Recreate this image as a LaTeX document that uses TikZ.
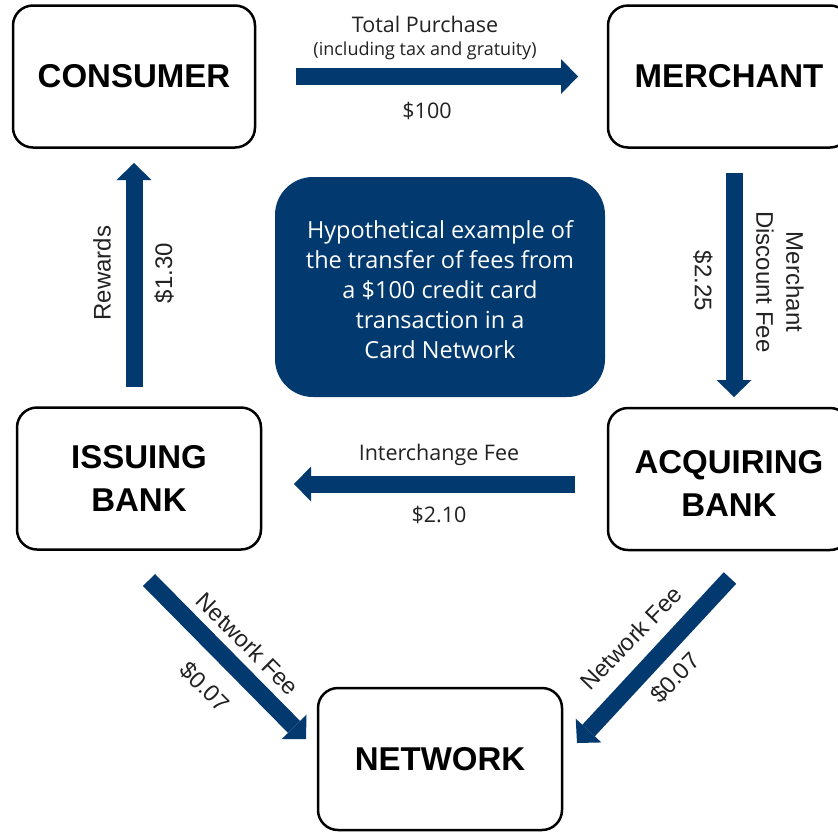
\documentclass[tikz,border=0pt]{standalone}
\usepackage{fontspec}
\setmainfont{Liberation Sans}
\newfontfamily\aptos{Open Sans}
\usetikzlibrary{arrows.meta}
\definecolor{navy}{HTML}{023A70}
\definecolor{txt}{HTML}{222222}
\begin{document}
\begin{tikzpicture}[x=1pt,y=-1pt,
 box/.style={draw=black, line width=2.5pt, rounded corners=20pt, fill=white, align=center,
   font=\fontsize{33}{43}\selectfont\bfseries, inner sep=0pt, minimum width=242pt, minimum height=142pt},
 blk/.style={draw=navy, line width=17pt, -{Triangle[width=35pt,length=17pt,line width=0pt]}},
 lbl/.style={text=txt, font=\fontsize{24}{30}\selectfont, inner sep=0pt, align=center},
 dlbl/.style={text=txt, font=\fontsize{23.5}{28}\selectfont, inner sep=0pt},
 alb/.style={text=txt, font=\aptos\fontsize{21.5}{26}\selectfont, inner sep=0pt},
 info/.style={fill=navy, rounded corners=38pt, minimum width=330pt, minimum height=220pt,
   text=white, align=center, font=\aptos\fontsize{23.5}{30}\selectfont, inner sep=0pt}]
\useasboundingbox (0,0) rectangle (838,831);
\clip (0,0) rectangle (838,831);
\fill[white] (0,0) rectangle (838,831);

% boxes
\node[box] (consumer) at (134,76.5) {CONSUMER};
\node[box] (merchant) at (729,76.5) {MERCHANT};
\node[box, minimum width=244pt] (issuing) at (139,478.5) {ISSUING\\BANK};
\node[box] (acquiring) at (729,479) {\raisebox{-14pt}[0pt][0pt]{\begin{tabular}{@{}c@{}}ACQUIRING\\[0pt]BANK\end{tabular}}};
\node[box, minimum width=244pt] (network) at (440,759) {NETWORK};
\node[info] (infobox) at (440,287) {};
\node[text=white, align=center, font=\aptos\fontsize{23.5}{30}\selectfont, inner sep=0pt] (infotext) at (440,290) {Hypothetical example of\\the transfer of fees from\\a \$100 credit card\\transaction in a\\Card Network};

% arrow end points
\coordinate (ta1) at (296,76.5);  \coordinate (ta2) at (578,76.5);
\coordinate (ra1) at (134,387);   \coordinate (ra2) at (134,163);
\coordinate (ma1) at (734,173);   \coordinate (ma2) at (734,397);
\coordinate (ia1) at (575,484);   \coordinate (ia2) at (294,484);
\coordinate (la1) at (149,580);   \coordinate (la2) at (306,739);
\coordinate (ga1) at (730,578);   \coordinate (ga2) at (577,743);

\draw[blk] (ta1) -- (ta2);
\draw[blk] (ra1) -- (ra2);
\draw[blk] (ma1) -- (ma2);
\draw[blk] (ia1) -- (ia2);
\draw[blk] (la1) -- (la2);
\draw[blk] (ga1) -- (ga2);

% labels
\node[alb] (tp) at (425,24) {Total Purchase};
\node[alb, font=\aptos\fontsize{18}{22}\selectfont] (tpi) at (425,51) {(including tax and gratuity)};
\node[alb] (tpv) at (427,111) {\$100};
\node[alb] (ic) at (439,455) {Interchange Fee};
\node[alb] (icv) at (439,515) {\$2.10};
\node[lbl, rotate=90] (rw) at (102,273) {Rewards};
\node[lbl, rotate=90] (rwv) at (164,273) {\$1.30};
\node[lbl, rotate=-90] (mdv) at (703,281) {\$2.25};
\node[lbl, rotate=-90] (md) at (780,282) {Merchant\\Discount Fee};
\node[dlbl, rotate=-45] (nfl) at (248,644) {Network Fee};
\node[dlbl, rotate=-45] (nflv) at (205,687) {\$0.07};
\node[dlbl, rotate=46] (nfr) at (631,638) {Network Fee};
\node[dlbl, rotate=46] (nfrv) at (675,678) {\$0.07};
\end{tikzpicture}
\end{document}
